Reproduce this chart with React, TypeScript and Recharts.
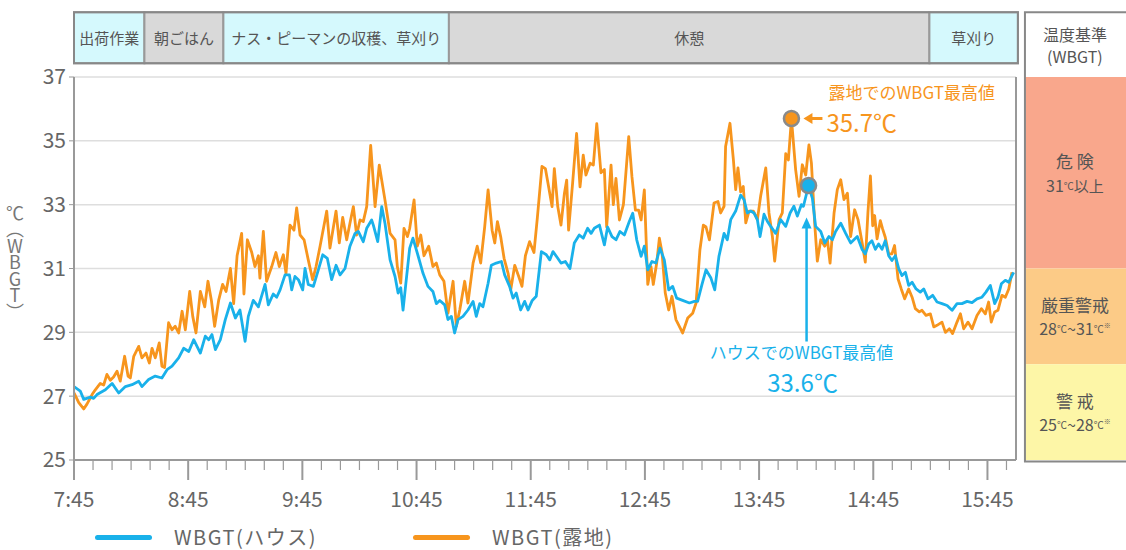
import {
  LineChart, Line, XAxis, YAxis, CartesianGrid,
  ReferenceArea, ReferenceDot, ReferenceLine
} from 'recharts'

document.body.style.margin = '0'

const FONT = '"Noto Sans CJK JP", "Noto Sans", sans-serif'
const BLUE = '#19b1ea'
const ORANGE = '#f7951d'
const INK = '#666'

// [minutes after 7:45, WBGT ℃] — ハウス
const HOUSE: [number, number][] = [
  [0, 27.3], [3.3, 27.16], [5.1, 26.9], [8.6, 26.97], [10.3, 26.93], [12.1, 27.05], [16.5, 27.2],
  [20, 27.4], [23.5, 27.1], [27, 27.3], [30.5, 27.36], [34, 27.47], [35.7, 27.3], [39.2, 27.52],
  [42.7, 27.63], [46.2, 27.57], [48.9, 27.83], [51.5, 27.94], [55, 28.2], [57.6, 28.5], [60.3, 28.4],
  [62.9, 28.77], [66.4, 28.35], [69, 28.88], [70.8, 28.77], [72.5, 28.93], [74.3, 28.46], [76.9, 28.77],
  [79.5, 29.4], [82.2, 29.92], [84.8, 29.45], [87.2, 29.7], [89.9, 28.72], [91.6, 29.5], [94.2, 30],
  [96.9, 29.8], [100.4, 30.5], [102.1, 29.86], [104.7, 30.2], [106.5, 30.1], [108.3, 30.33], [110.9, 30.8],
  [113.2, 30.8], [114.4, 30.33], [116.1, 30.75], [117.9, 30.65], [120.2, 30.33], [121.4, 31], [123.1, 30.5],
  [125.8, 30.44], [128.4, 30.96], [130.7, 31.43], [133.1, 31.32], [135.4, 30.65], [137.7, 31.1], [139.8, 30.8],
  [142.4, 31], [145, 31.7], [147.7, 32.1], [149.4, 32.16], [152, 31.84], [153.8, 32.26], [156.4, 32.52],
  [157.3, 32.36], [159.6, 31.84], [161.7, 32.94], [163.4, 32.42], [166.1, 31.27], [168.7, 30.75], [170.3, 30.23],
  [171.7, 30.4], [172.9, 29.7], [174.6, 30.65], [176.4, 31.64], [178.1, 31.95], [180.8, 31.4], [183.4, 30.85],
  [186, 30.44], [188.6, 30.28], [190.4, 29.9], [192.2, 30], [194.8, 29.86], [196.5, 29.4], [198.3, 29.5],
  [200, 28.98], [201.8, 29.4], [204.4, 29.5], [207, 29.7], [209.7, 29.97], [211.4, 29.5], [213.2, 29.9],
  [214.9, 29.8], [217.6, 30.54], [219.3, 31.1], [221.9, 31.17], [224.6, 31.22], [226.3, 30.8], [228.9, 30.44],
  [230.7, 30.07], [232.4, 30.23], [234.7, 29.7], [236.8, 29.97], [238.6, 29.7], [240.8, 30], [242.9, 30.13],
  [245.6, 31.53], [248.2, 31.43], [250, 31.27], [251.7, 31.53], [254.2, 31.32], [255.9, 31.17], [258.2, 31.22],
  [260.6, 31], [262.9, 31.8], [265.5, 32.05], [267.6, 31.95], [269.9, 32.26], [271.7, 32.1], [273.4, 32.26],
  [276.1, 32.36], [278.7, 31.74], [280.4, 32.3], [282.7, 32], [284.8, 31.9], [286.9, 32.16], [289.2, 32.05],
  [291.8, 32.47], [293.6, 32.73], [295.7, 31.9], [298, 31.38], [299.7, 31.7], [301.5, 30.96], [303.7, 31.22],
  [305.8, 31.17], [307.9, 31.64], [310.2, 31.27], [312.5, 30.33], [314.6, 30.44], [316.7, 30.07], [319.8, 30],
  [323.4, 29.92], [326, 29.97], [327.7, 29.97], [330, 30.5], [332.1, 30.96], [334.7, 30.7], [336.7, 30.33],
  [338.9, 31.38], [341.6, 32.1], [343.3, 31.9], [345.1, 32.53], [347.7, 32.8], [350.3, 33.3], [352.1, 33.16],
  [353.8, 32.74], [355.6, 32.8], [357.3, 32.74], [359.1, 32.53], [360.5, 32], [362.6, 32.7], [364.3, 32.48],
  [366.1, 32.32], [368.7, 32.1], [371.3, 32.53], [374, 32.32], [376.3, 32.74], [378.3, 32.95], [380.1, 32.64],
  [382.2, 33], [383.3, 32.95], [386, 33.6], [388, 33.2], [389.7, 32.32], [392.4, 32.16], [394.5, 31.8],
  [396.7, 32], [398.5, 31.9], [400.2, 32.16], [402.9, 32.42], [405.5, 32.1], [408.1, 31.8], [411.6, 32],
  [414.1, 31.6], [415.8, 31.46], [417.6, 31.77], [419.3, 31.87], [421.1, 31.6], [422.8, 31.77], [424.6, 31.6],
  [426.3, 31.87], [428.1, 31.4], [429.8, 31.25], [431.6, 31.4], [433.4, 30.99], [435.1, 30.78], [436.9, 30.88],
  [438.6, 30.47], [440.4, 30.57], [442.5, 30.36], [444.7, 30.26], [446.5, 30.36], [448.8, 30.05], [451.2, 30.16],
  [453.5, 29.95], [456.1, 29.9], [458.8, 29.84], [461.4, 29.69], [464, 29.9], [466.6, 29.9], [469.3, 29.97],
  [471.9, 29.93], [474.5, 30.05], [477.1, 30.1], [479.2, 30.26], [481.5, 30.47], [483.8, 29.9], [485.5, 30.1],
  [487.3, 30.52], [489.4, 30.63], [491.2, 30.57], [492.9, 30.78], [493.8, 30.88],
]

// [minutes after 7:45, WBGT ℃] — 露地
const FIELD: [number, number][] = [
  [0, 27.1], [2.5, 26.8], [5.1, 26.6], [6.8, 26.75], [9.5, 27.05], [11.2, 27.2], [13.8, 27.4],
  [15.6, 27.35], [17.3, 27.68], [19.1, 27.5], [20.8, 27.6], [22.6, 27.78], [24.3, 27.47], [26.6, 28.25],
  [28.4, 27.63], [29.6, 27.57], [31.4, 28.25], [34, 28.56], [35.7, 28.2], [37.8, 28.35], [39.6, 28.04],
  [41, 28.5], [42.7, 28.2], [44.8, 28.67], [46.2, 27.94], [47.6, 27.9], [49.7, 29.3], [51.5, 29.08],
  [53.2, 29.19], [55, 28.98], [56.8, 29.66], [58.5, 29.08], [60.8, 30.28], [62.4, 29.5], [64.1, 28.98],
  [66.4, 30.28], [68.7, 29.8], [70.4, 30.6], [72.2, 30], [73.9, 29.19], [76, 30], [78.1, 30.5],
  [79.9, 30.28], [82.2, 31], [83.9, 29.9], [85.7, 31.4], [88.1, 32.1], [89.3, 30.2], [91.1, 31.9],
  [93.4, 31.5], [95.1, 31.06], [96.9, 31.4], [97.7, 30.7], [99.5, 32.16], [101.2, 30.6], [103.9, 31.06],
  [106.1, 31.5], [107.9, 31.06], [110, 31.43], [111.4, 30.85], [113.5, 32.36], [115.6, 32.2], [117, 32.9],
  [118.8, 32.05], [120.9, 31.9], [123.1, 31.27], [125.4, 30.65], [127.2, 31.06], [129.3, 31.7], [132.8, 32.8],
  [134.5, 31.64], [137.7, 32.8], [139.4, 31.8], [141.2, 32.6], [143.3, 31.9], [145, 32.42], [146.8, 32.94],
  [148.5, 32.05], [150.3, 32.52], [152, 32.47], [153.8, 32.94], [155.9, 34.86], [158.2, 32.94], [160.4, 34.24],
  [163.4, 33.15], [166.1, 32.1], [168.7, 31.9], [169.9, 31.06], [171.7, 30.54], [173.4, 32.26], [175.2, 32],
  [176.4, 32.26], [178.7, 33.15], [180.4, 31.7], [182.2, 32.05], [183.9, 31.4], [186.4, 31.7], [188.6, 31.06],
  [190.4, 31.17], [192.2, 30.8], [194.4, 30.6], [196.5, 29.6], [199.2, 30.6], [200.9, 29.19], [202.7, 29.7],
  [205.3, 30.6], [207, 29.92], [209.7, 31.17], [211.9, 31.7], [213.7, 31.17], [215.8, 32.3], [217.6, 33.46],
  [219.7, 32.2], [221.1, 31.8], [222.5, 32.47], [224.2, 32], [226, 31.32], [228.1, 30.85], [229.5, 30.33],
  [231.6, 31.1], [233.7, 30.75], [235.4, 30.44], [237.2, 31.4], [239.4, 31.84], [241.7, 31.5], [243.5, 32.6],
  [245.9, 34.2], [247.7, 34.13], [249.4, 33.56], [251.2, 32.94], [252.4, 34.13], [254.2, 32.94], [255.9, 32.36],
  [257.7, 33.35], [258.9, 33.77], [259.9, 32.2], [262, 33.67], [264.1, 35.23], [265.9, 33.56], [267.6, 34.55],
  [269, 33.93], [271.2, 34.3], [272.9, 34.24], [274.7, 35.54], [276.9, 34], [278.7, 34.1], [279.9, 32.3],
  [282.2, 34.24], [283.4, 33], [284.8, 33.82], [286.6, 32.52], [288.7, 33], [291.5, 35.13], [293.2, 33.87],
  [295, 32.83], [296.7, 32.83], [298, 32.52], [299.7, 33.46], [301.5, 30.5], [303.2, 31.06], [304.4, 30.5],
  [306.2, 31.17], [307.6, 31.95], [309, 31.5], [310.7, 30.23], [312.5, 29.7], [314.2, 30.13], [316.3, 29.4],
  [318.1, 29.19], [319.8, 28.98], [322.5, 29.45], [325.1, 29.6], [326.9, 29.92], [328.9, 31.58], [330.7, 32.36],
  [332.1, 32.3], [333.9, 31.9], [336.3, 33.05], [338.4, 33.1], [339.8, 32.74], [341.6, 32.95], [342.4, 34.82],
  [344.7, 35.55], [346.5, 34.4], [347.7, 33.47], [348.9, 34.15], [350.3, 33.4], [351.7, 33.57], [353, 32.43],
  [354.7, 32.8], [357, 32.8], [359.1, 32.53], [360.8, 33.26], [363.5, 34.15], [365.2, 32.74], [367, 32],
  [368.2, 31.23], [370.5, 32.53], [372.2, 32.74], [374, 34.6], [375.4, 34.4], [377, 35.7], [379.2, 34.1],
  [381, 33.26], [382.7, 34.25], [384.5, 33.93], [386.2, 34.87], [387.5, 34.3], [389.2, 32.43], [390.6, 31.23],
  [392.4, 31.9], [394.5, 31.7], [395.9, 31.9], [397.3, 31.17], [399.4, 32.74], [401.1, 33.47], [402.9, 33.78],
  [404.6, 33.16], [406.4, 33.36], [408.1, 32], [410.2, 32.84], [412, 32.53], [414.1, 31.82], [415.8, 31.2],
  [417.2, 32.76], [418.5, 33.9], [419.7, 32.34], [420.7, 32.66], [422, 31.93], [423.7, 32.5], [424.9, 32.24],
  [426.3, 31.98], [428.1, 31.46], [429.8, 31.46], [431.2, 31.72], [433, 30.68], [434.7, 30.36], [436.5, 30.05],
  [438.6, 30.36], [440.4, 30.1], [442.1, 29.74], [444.2, 29.64], [445.6, 29.69], [447.7, 29.53], [450, 29.58],
  [451.8, 29.17], [453.5, 29.22], [456.1, 29.32], [457.9, 29], [460, 29.11], [461.7, 28.96], [464, 29.32],
  [465.8, 29.58], [467.5, 29.11], [469.8, 29.32], [471.9, 29.11], [474.5, 29.53], [476.8, 29.74], [478.9, 29.58],
  [480.6, 29.95], [482, 29.32], [483.8, 29.64], [485.5, 29.69], [487.6, 30.16], [489.4, 30.1], [491.2, 30.36],
  [492.9, 30.88],
]

const SERIES_NAMES = ['WBGT(ハウス)', 'WBGT(露地)']
const SERIES_COLORS = [BLUE, ORANGE]

const HOUR_LABELS = ['7:45', '8:45', '9:45', '10:45', '11:45', '12:45', '13:45', '14:45', '15:45']
const Y_TICKS = [25, 27, 29, 31, 33, 35, 37]
const Y_LABEL = '℃︵WBGT︶'

const ACTIVITY_NAMES = ['出荷作業', '朝ごはん', 'ナス・ピーマンの収穫、草刈り', '休憩', '草刈り']
const ACTIVITY_START = [0, 37, 78.5, 197, 449.5]
const ACTIVITY_END = [37, 78.5, 197, 449.5, 496]
const ACTIVITY_WORK = [true, false, true, false, true]

const LEVEL_NAMES = ['危 険', '厳重警戒', '警 戒']
const LEVEL_LOW = [31, 28, 25]
const LEVEL_HIGH = [37, 31, 28]
const LEVEL_COLORS = ['#f9a78c', '#fccb87', '#fdf6a7']

// layout in axis units (band above plot, panel right of plot)
const BAND_Y: [number, number] = [37.43, 39.03]
const PANEL_X: [number, number] = [499.7, 560]
const PANEL_Y: [number, number] = [24.95, 39.03]

const MINOR_TICKS = Array.from({ length: 50 }, (_, i) => i * 10)

const toPoints = (s: [number, number][]) => s.map(([t, v]) => ({ t, v }))
const houseData = toPoints(HOUSE)
const fieldData = toPoints(FIELD)
const peakOf = (s: [number, number][]) => s.reduce((a, b) => (b[1] > a[1] ? b : a))
const housePeak = peakOf(HOUSE)
const fieldPeak = peakOf(FIELD)

function TimeTick(props: any) {
  const { x, y, payload } = props
  const major = payload.value % 60 === 0
  return (
    <g>
      <line x1={x} x2={x} y1={y} y2={y + (major ? 20 : 10)} stroke="#999" strokeWidth={major ? 2 : 1.2} />
      {major && (
        <text x={x} y={y + 38} textAnchor="middle" dominantBaseline="central" fontSize={21} fill={INK}>
          {HOUR_LABELS[payload.value / 60]}
        </text>
      )}
    </g>
  )
}

function ActivityBox(p: any, name: string, work: boolean) {
  return (
    <g>
      <rect x={p.x} y={p.y} width={p.width} height={p.height} fill={work ? '#d5f9fd' : '#d9d9d9'} stroke="#999" strokeWidth={2} />
      <text x={p.x + p.width / 2} y={p.y + p.height / 2} textAnchor="middle" dominantBaseline="central" fontSize={15} fill="#555">
        {name}
      </text>
    </g>
  )
}

function PanelHeader(p: any) {
  const cx = p.x + 50
  const cy = p.y + p.height / 2
  return (
    <g>
      <rect x={p.x} y={p.y} width={p.width} height={p.height} fill="#fff" />
      <text x={cx} y={cy - 11} textAnchor="middle" dominantBaseline="central" fontSize={16} fill="#555">温度基準</text>
      <text x={cx} y={cy + 11} textAnchor="middle" dominantBaseline="central" fontSize={16} fill="#555">(WBGT)</text>
    </g>
  )
}

function LevelBox(p: any, i: number) {
  const cx = p.x + 50
  const cy = p.y + p.height / 2
  return (
    <g>
      <rect x={p.x} y={p.y} width={p.width} height={p.height} fill={LEVEL_COLORS[i]} />
      <text x={cx} y={cy - 12} textAnchor="middle" dominantBaseline="central" fontSize={17} fill="#555">
        {LEVEL_NAMES[i]}
      </text>
      <text x={cx} y={cy + 12} textAnchor="middle" dominantBaseline="central" fontSize={16} fill="#555">
        {i === 0 ? (
          <>
            <tspan>{LEVEL_LOW[i]}</tspan>
            <tspan fontSize={10}>℃</tspan>
            <tspan fontSize={15}>以上</tspan>
          </>
        ) : (
          <>
            <tspan>{LEVEL_LOW[i]}</tspan>
            <tspan fontSize={10}>℃</tspan>
            <tspan>~{LEVEL_HIGH[i]}</tspan>
            <tspan fontSize={10}>℃</tspan>
            <tspan fontSize={7} dy={-3}>※</tspan>
          </>
        )}
      </text>
    </g>
  )
}

function FieldPeakMark(p: any) {
  const { cx, cy } = p
  return (
    <g>
      <line x1={cx + 19} x2={cx + 31} y1={cy} y2={cy} stroke={ORANGE} strokeWidth={3} />
      <path d={`M${cx + 12},${cy} l9,-5.5 v11 z`} fill={ORANGE} />
      <circle cx={cx} cy={cy} r={7.5} fill={ORANGE} stroke="#8a8a8a" strokeWidth={2.5} />
      <text x={cx + 37} y={cy - 27} dominantBaseline="central" fontSize={17} fill={ORANGE}>露地でのWBGT最高値</text>
      <text x={cx + 35} y={cy + 3} dominantBaseline="central" fontSize={24} fill={ORANGE}>
        {fieldPeak[1].toFixed(1)}℃
      </text>
    </g>
  )
}

function HousePeakMark(p: any) {
  const { cx, cy } = p
  return (
    <g>
      <line x1={cx - 2} x2={cx - 2} y1={cy + 40} y2={cy + 156} stroke={BLUE} strokeWidth={2.5} />
      <path d={`M${cx - 2},${cy + 32} l-5,11 h10 z`} fill={BLUE} />
      <circle cx={cx} cy={cy} r={7.5} fill={BLUE} stroke="#8a8a8a" strokeWidth={2.5} />
      <text x={cx - 7} y={cy + 166} textAnchor="middle" dominantBaseline="central" fontSize={17} fill={BLUE}>
        ハウスでのWBGT最高値
      </text>
      <text x={cx - 6} y={cy + 196} textAnchor="middle" dominantBaseline="central" fontSize={24} fill={BLUE}>
        {housePeak[1].toFixed(1)}℃
      </text>
    </g>
  )
}

export default function App() {
  return (
    <div style={{ position: 'relative', width: 1126, height: 550, fontFamily: FONT, background: '#fff', overflow: 'hidden' }}>
      <LineChart
        width={1126}
        height={550}
        margin={{ top: 77, right: 110, bottom: 50, left: 0 }}
        style={{ fontFamily: FONT }}
      >
        <CartesianGrid vertical={false} stroke="#dedede" strokeWidth={1.5} />
        <XAxis
          type="number"
          dataKey="t"
          domain={[0, 495]}
          ticks={MINOR_TICKS}
          interval={0}
          allowDataOverflow
          height={40}
          axisLine={{ stroke: '#999', strokeWidth: 2 }}
          tickLine={false}
          tickSize={0}
          tickMargin={0}
          tick={<TimeTick />}
        />
        <YAxis
          type="number"
          domain={[25, 37]}
          ticks={Y_TICKS}
          interval={0}
          allowDataOverflow
          width={74}
          axisLine={{ stroke: '#999', strokeWidth: 2 }}
          tickLine={{ stroke: '#999' }}
          tickSize={5}
          tickMargin={3}
          tick={{ fontSize: 21, fill: INK }}
        />
        <ReferenceLine x={495} stroke="#999" strokeWidth={2} />

        {ACTIVITY_NAMES.map((name, i) => (
          <ReferenceArea
            key={name}
            x1={ACTIVITY_START[i]}
            x2={ACTIVITY_END[i]}
            y1={BAND_Y[0]}
            y2={BAND_Y[1]}
            ifOverflow="visible"
            shape={(p: any) => ActivityBox(p, name, ACTIVITY_WORK[i])}
          />
        ))}
        <ReferenceArea x1={0} x2={496} y1={BAND_Y[0]} y2={BAND_Y[1]} ifOverflow="visible" fill="none" stroke="#888" strokeWidth={2} />

        <ReferenceArea x1={PANEL_X[0]} x2={PANEL_X[1]} y1={37} y2={PANEL_Y[1]} ifOverflow="visible" shape={(p: any) => PanelHeader(p)} />
        {LEVEL_NAMES.map((name, i) => (
          <ReferenceArea
            key={name}
            x1={PANEL_X[0]}
            x2={PANEL_X[1]}
            y1={LEVEL_LOW[i]}
            y2={LEVEL_HIGH[i]}
            ifOverflow="visible"
            shape={(p: any) => LevelBox(p, i)}
          />
        ))}
        <ReferenceArea x1={PANEL_X[0]} x2={PANEL_X[1]} y1={PANEL_Y[0]} y2={PANEL_Y[1]} ifOverflow="visible" fill="none" stroke="#888" strokeWidth={2} />

        <Line data={fieldData} dataKey="v" name={SERIES_NAMES[1]} stroke={ORANGE} strokeWidth={2.8} dot={false} type="linear" strokeLinejoin="round" isAnimationActive={false} />
        <Line data={houseData} dataKey="v" name={SERIES_NAMES[0]} stroke={BLUE} strokeWidth={2.8} dot={false} type="linear" strokeLinejoin="round" isAnimationActive={false} />

        <ReferenceDot x={fieldPeak[0]} y={fieldPeak[1]} r={7.5} ifOverflow="visible" shape={(p: any) => <FieldPeakMark {...p} />} />
        <ReferenceDot x={housePeak[0]} y={housePeak[1]} r={7.5} ifOverflow="visible" shape={(p: any) => <HousePeakMark {...p} />} />
      </LineChart>

      {/* vertical axis title */}
      <div
        style={{
          position: 'absolute', left: 4, top: 204, width: 22, height: 130,
          writingMode: 'vertical-rl', textOrientation: 'upright',
          fontSize: 18, lineHeight: '22px', color: '#777', letterSpacing: -1.5,
          display: 'flex', alignItems: 'center', justifyContent: 'flex-start',
        }}
      >
        {Y_LABEL}
      </div>

      <div style={{ position: 'absolute', left: 0, top: 525, width: 1126, height: 24 }}>
        {SERIES_NAMES.map((name, i) => (
          <div key={name} style={{ position: 'absolute', left: i === 0 ? 95 : 413, top: 0, display: 'flex', alignItems: 'center', height: 24 }}>
            <span style={{ display: 'inline-block', width: 57, height: 5, borderRadius: 3, background: SERIES_COLORS[i], marginRight: 22 }} />
            <span style={{ fontSize: 20, lineHeight: '24px', letterSpacing: 1.5, color: INK, whiteSpace: 'nowrap' }}>{name}</span>
          </div>
        ))}
      </div>
    </div>
  )
}
